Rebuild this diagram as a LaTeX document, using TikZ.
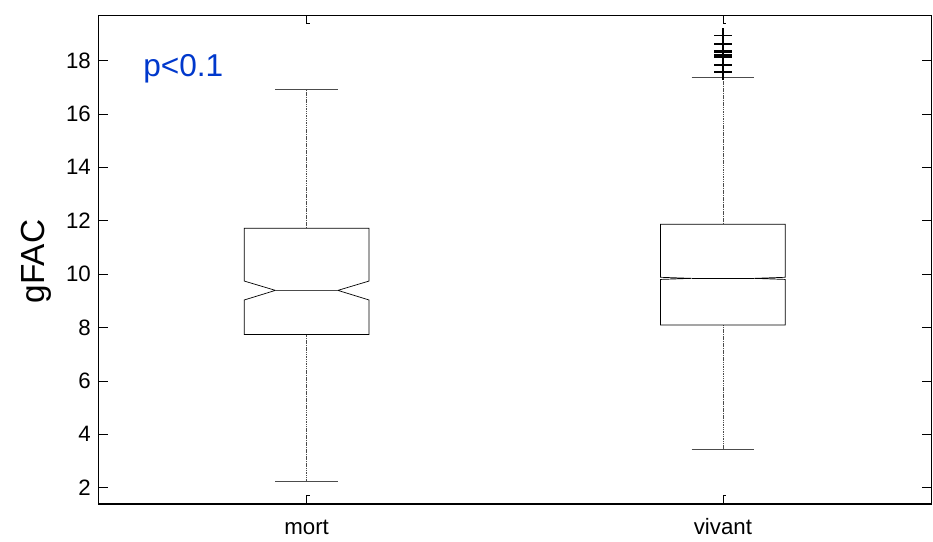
\documentclass[tikz,border=0pt]{standalone}
\usepackage{fontspec}
\setmainfont{Liberation Sans}
\definecolor{pblue}{RGB}{0,56,204}
\begin{document}
\begin{tikzpicture}[
	ticklab/.style={inner sep=0pt,font=\fontsize{19}{22}\selectfont},
	whisk/.style={black!70,line width=0.6pt,dash pattern=on 1pt off 0.5pt},
	whiskcap/.style={black!70,line width=0.7pt},
	boxline/.style={black,line width=0.6pt},
	outl/.style={black,line width=1.4pt}]
	\useasboundingbox (0,0) rectangle (27.99,16.26);
	\begin{scope}[shift={(-3.288cm,0.027cm)},x=12.4875cm,y=0.801cm]
			\draw[line width=0.9pt] (0.5,1.39) rectangle (2.5,19.7);
			\foreach \v in {2,4,...,18}{
				\draw[line width=0.6pt] (0.5,\v) -- ++(0.27cm,0);
				\draw[line width=0.6pt] (2.5,\v) -- ++(-0.27cm,0);
				\node[ticklab,anchor=east] (y\v) at ([xshift=-0.225cm]0.5,\v) {\v};
			}
			\foreach \g in {1,2}{
				\draw[line width=0.6pt] (\g,19.7) -- (\g,19.4) -- ++(0.09cm,0);
				\draw[line width=0.6pt] (\g,1.39) -- (\g,1.72) -- ++(0.09cm,0);
			}
			\draw[whisk] (1,11.72) -- (1,16.9);
			\draw[whisk] (1,7.74) -- (1,2.22);
			\draw[whiskcap] (0.925,16.9) -- (1.075,16.9);
			\draw[whiskcap] (0.925,2.22) -- (1.075,2.22);
			\draw[boxline] (0.85,7.74) -- (1.15,7.74) -- (1.15,9.03) -- (1.075,9.39) -- (1.15,9.74)
			-- (1.15,11.72) -- (0.85,11.72) -- (0.85,9.74) -- (0.925,9.39) -- (0.85,9.03) -- cycle;
			\draw[whiskcap] (0.925,9.39) -- (1.075,9.39);
			\draw[whisk] (2,11.87) -- (2,17.38);
			\draw[whisk] (2,8.09) -- (2,3.44);
			\draw[whiskcap] (1.925,17.38) -- (2.075,17.38);
			\draw[whiskcap] (1.925,3.44) -- (2.075,3.44);
			\draw[boxline] (1.85,8.09) -- (2.15,8.09) -- (2.15,9.80) -- (2.075,9.84) -- (2.15,9.88)
			-- (2.15,11.87) -- (1.85,11.87) -- (1.85,9.88) -- (1.925,9.84) -- (1.85,9.80) -- cycle;
			\draw[boxline] (1.925,9.84) -- (2.075,9.84);
			\foreach \v in {17.58,17.82,18.14,18.21,18.31,18.37,18.62,18.93}{
				\draw[outl] (2,\v) ++(-0.26cm,0) -- ++(0.52cm,0);
				\draw[outl] (2,\v) ++(0,-0.24cm) -- ++(0,0.48cm);
			}
			\node[ticklab,anchor=base] (mort) at (1,0.23) {mort};
			\node[ticklab,anchor=base] (vivant) at (2,0.23) {vivant};
			\node[inner sep=0pt,anchor=base,rotate=90,font=\fontsize{28.5}{32}\selectfont] (gfac) at (0.3714,10.47) {gFAC};
			\node[inner sep=0pt,anchor=base west,text=pblue,font=\fontsize{27}{31}\selectfont] (pval) at (0.607,17.39) {p<0.1};
	\end{scope}
\end{tikzpicture}
\end{document}
